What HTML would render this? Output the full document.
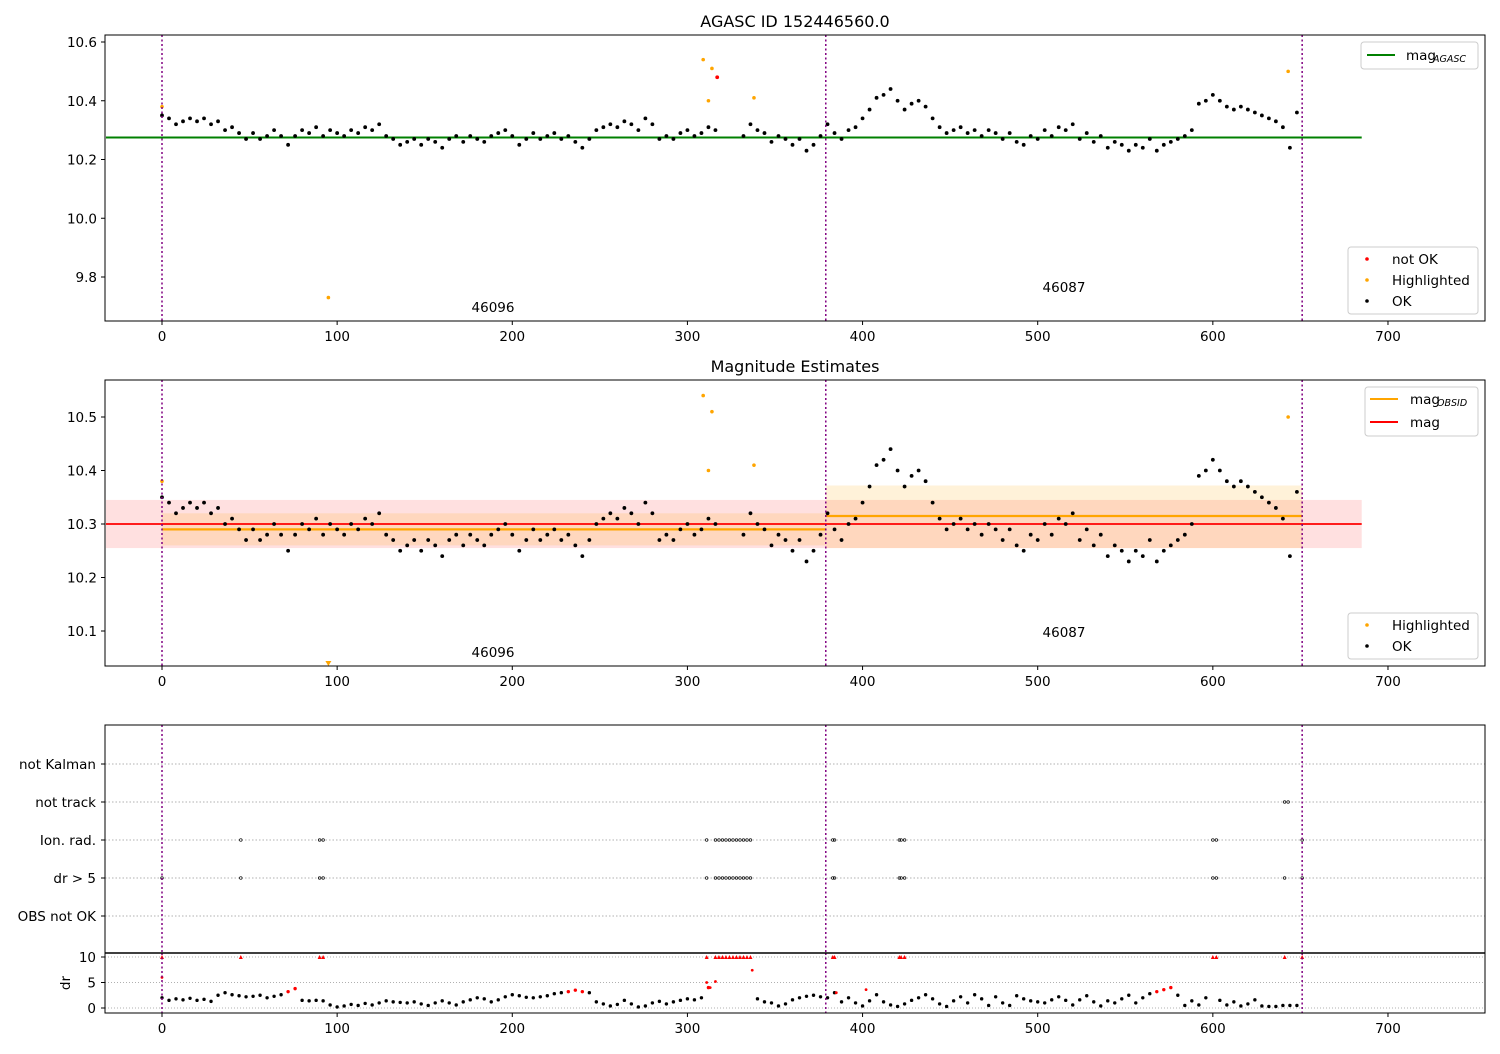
<!DOCTYPE html>
<html><head><meta charset="utf-8"><style>
body{margin:0;background:#fff;font-family:"DejaVu Sans","Liberation Sans",sans-serif;}
svg text{font-family:"DejaVu Sans","Liberation Sans",sans-serif;fill:#000}
</style></head><body>
<svg id="c" width="1500" height="1050" xmlns="http://www.w3.org/2000/svg"></svg>
<script>
const magX0=0, magStep=4;
const magValues=[10.35,10.34,10.32,10.33,10.34,10.33,10.34,10.32,10.33,10.30,10.31,10.29,10.27,10.29,10.27,10.28,10.30,10.28,10.25,10.28,10.30,10.29,10.31,10.28,10.30,10.29,10.28,10.30,10.29,10.31,10.30,10.32,10.28,10.27,10.25,10.26,10.27,10.25,10.27,10.26,10.24,10.27,10.28,10.26,10.28,10.27,10.26,10.28,10.29,10.30,10.28,10.25,10.27,10.29,10.27,10.28,10.29,10.27,10.28,10.26,10.24,10.27,10.30,10.31,10.32,10.31,10.33,10.32,10.30,10.34,10.32,10.27,10.28,10.27,10.29,10.30,10.28,10.29,10.31,10.30,null,null,null,10.28,10.32,10.30,10.29,10.26,10.28,10.27,10.25,10.27,10.23,10.25,10.28,10.32,10.29,10.27,10.30,10.31,10.34,10.37,10.41,10.42,10.44,10.40,10.37,10.39,10.40,10.38,10.34,10.31,10.29,10.30,10.31,10.29,10.30,10.28,10.30,10.29,10.27,10.29,10.26,10.25,10.28,10.27,10.30,10.28,10.31,10.30,10.32,10.27,10.29,10.26,10.28,10.24,10.26,10.25,10.23,10.25,10.24,10.27,10.23,10.25,10.26,10.27,10.28,10.30,10.39,10.40,10.42,10.40,10.38,10.37,10.38,10.37,10.36,10.35,10.34,10.33,10.31,10.24,10.36];
const hlX=[0,95,309,312,314,338,643];
const hlY=[10.38,9.73,10.54,10.40,10.51,10.41,10.50];
const notOkX=[317], notOkY=[10.48];
const drValues=[2.0,1.5,1.8,1.6,1.9,1.5,1.7,1.3,2.5,3.0,2.6,2.4,2.2,2.3,2.5,2.0,2.3,2.6,3.2,3.8,1.5,1.4,1.5,1.4,0.6,0.2,0.4,0.7,0.5,0.9,0.6,1.0,1.4,1.2,1.1,1.0,1.2,0.8,0.5,1.0,1.4,1.0,0.6,1.2,1.6,2.0,1.8,1.2,1.6,2.2,2.6,2.4,2.1,2.0,2.2,2.4,2.8,3.0,3.2,3.5,3.2,3.0,1.2,0.8,0.4,0.7,1.5,0.8,0.2,0.4,1.0,1.3,0.8,1.2,1.5,1.8,1.6,2.0,4.0,null,null,null,null,null,null,1.8,1.2,1.0,0.4,0.8,1.6,2.0,2.3,2.5,2.2,2.0,3.0,1.2,2.0,1.0,0.4,1.4,2.6,1.2,0.6,0.3,0.8,1.5,2.0,2.6,1.8,0.8,0.3,1.4,2.2,1.0,2.6,1.8,0.5,2.2,1.0,0.5,2.4,1.8,1.4,1.2,1.0,1.6,2.2,1.5,0.6,1.6,2.4,1.2,0.4,1.4,1.0,1.8,2.5,1.0,2.0,2.8,3.2,3.6,4.0,2.5,0.5,1.4,0.6,2.0,null,1.5,0.6,1.2,0.4,0.8,1.6,0.4,0.3,0.3,0.5,0.5,0.5];
const drExtraX=[0,311,313,316,337,402,385];
const drExtraY=[6,5,4,5.2,7.4,3.6,3.0];
const drGt5X=[0,45,90,92,311,316,318,320,322,324,326,328,330,332,334,336,383,384,421,422,424,600,602,641,651];
const ionX=[45,90,92,311,316,318,320,322,324,326,328,330,332,334,336,383,384,421,422,424,600,602,651];
const notTrackX=[641,643];
const categories=["not Kalman","not track","Ion. rad.","dr > 5","OBS not OK"];
const xTicks=[0,100,200,300,400,500,600,700];
const p1Ticks=[9.8,10.0,10.2,10.4,10.6];
const p2Ticks=[10.1,10.2,10.3,10.4,10.5];
const drTicks=[0,5,10];
const obsStarts=[0,379,651];
const obsLabels=["46096","46087"];
const magAgasc=10.275, magMean=10.30, magStd=0.045;
const obsMean=[10.29,10.315], obsLo=[10.26,10.255], obsHi=[10.32,10.372];

const NS="http://www.w3.org/2000/svg", svg=document.getElementById('c');
const X=v=>162+v*1.7514;
const Y1=v=>42+(10.6-v)*293.75;
const Y2=v=>417+(10.5-v)*535;
const YD=v=>1008-v*5.1;
function el(t,a,p){const e=document.createElementNS(NS,t);for(const k in a)e.setAttribute(k,a[k]);(p||svg).appendChild(e);return e;}
function txt(s,x,y,a,p){const e=el('text',Object.assign({x:x,y:y,style:'font-size:13.5px'},a||{}),p);e.textContent=s;return e;}
function frame(y0,y1){el('rect',{x:105,y:y0,width:1380,height:y1-y0,fill:'none',stroke:'#000','stroke-width':1});}
function xticks(yb,lab){xTicks.forEach(t=>{el('line',{x1:X(t),x2:X(t),y1:yb,y2:yb+4,stroke:'#000'});if(lab)txt(String(t),X(t),yb+20,{'text-anchor':'middle',style:'font-size:13.5px'});});}
function vlines(y0,y1,g){obsStarts.forEach(s=>{const l=el('line',{x1:X(s),x2:X(s),y1:y0,y2:y1,stroke:'#800080','stroke-width':1.5,'stroke-dasharray':'2,2.5'},g);});}
function mags(Y,g){magValues.forEach((v,i)=>{if(v==null)return;el('circle',{cx:X(magX0+i*magStep),cy:Y(v),r:1.9,fill:'#000'},g);});}

txt("AGASC ID 152446560.0",795,27,{'text-anchor':'middle',style:'font-size:16px'});

const g1=el('g',{});
el('line',{x1:X(-32),x2:X(685),y1:Y1(magAgasc),y2:Y1(magAgasc),stroke:'#008000','stroke-width':2},g1);
mags(Y1,g1);
hlX.forEach((x,i)=>el('circle',{cx:X(x),cy:Y1(hlY[i]),r:1.8,fill:'#ffa500'},g1));
notOkX.forEach((x,i)=>el('circle',{cx:X(x),cy:Y1(notOkY[i]),r:1.9,fill:'#f00'},g1));
vlines(35,321,g1);
frame(35,321);xticks(321,true);
p1Ticks.forEach(t=>{el('line',{x1:101,x2:105,y1:Y1(t),y2:Y1(t),stroke:'#000'});txt(t.toFixed(1),97,Y1(t)+5,{'text-anchor':'end'});});
txt(obsLabels[0],493,312,{'text-anchor':'middle'});txt(obsLabels[1],1064,292,{'text-anchor':'middle'});
let lg=el('g',{});
el('rect',{x:1361,y:42,width:117,height:27,rx:3,fill:'#fff',stroke:'#ccc'},lg);
el('line',{x1:1367,x2:1395,y1:55,y2:55,stroke:'#008000','stroke-width':2},lg);
txt("mag",1406,60,{},lg);txt("AGASC",1433,62,{style:'font-size:9.5px;font-style:italic'},lg);
lg=el('g',{});
el('rect',{x:1348,y:247,width:130,height:67,rx:3,fill:'#fff',stroke:'#ccc'},lg);
[['#f00','not OK',260],['#ffa500','Highlighted',281],['#000','OK',302]].forEach(a=>{el('circle',{cx:1367,cy:a[2]-1,r:1.8,fill:a[0]},lg);txt(a[1],1392,a[2]+4,{},lg);});

txt("Magnitude Estimates",795,372,{'text-anchor':'middle',style:'font-size:16px'});
const g2=el('g',{});
el('rect',{x:X(-32),y:Y2(magMean+magStd),width:X(685)-X(-32),height:Y2(magMean-magStd)-Y2(magMean+magStd),fill:'#ff0000','fill-opacity':0.12},g2);
[[0,379],[379,651]].forEach((r,i)=>{el('rect',{x:X(r[0]),y:Y2(obsHi[i]),width:X(r[1])-X(r[0]),height:Y2(obsLo[i])-Y2(obsHi[i]),fill:'#ffa500','fill-opacity':0.15},g2);});
el('line',{x1:X(-32),x2:X(685),y1:Y2(magMean),y2:Y2(magMean),stroke:'#f00','stroke-width':1.8},g2);
[[0,379],[379,651]].forEach((r,i)=>{el('line',{x1:X(r[0]),x2:X(r[1]),y1:Y2(obsMean[i]),y2:Y2(obsMean[i]),stroke:'#ffa500','stroke-width':2.2},g2);});
mags(Y2,g2);
hlX.forEach((x,i)=>{if(hlY[i]<10.04){el('path',{d:`M${X(x)-3},${661} L${X(x)+3},${661} L${X(x)},${666}Z`,fill:'#ffa500'},g2);}else el('circle',{cx:X(x),cy:Y2(hlY[i]),r:1.8,fill:'#ffa500'},g2);});
vlines(380,666,g2);
frame(380,666);xticks(666,true);
p2Ticks.forEach(t=>{el('line',{x1:101,x2:105,y1:Y2(t),y2:Y2(t),stroke:'#000'});txt(t.toFixed(1),97,Y2(t)+5,{'text-anchor':'end'});});
txt(obsLabels[0],493,657,{'text-anchor':'middle'});txt(obsLabels[1],1064,637,{'text-anchor':'middle'});
lg=el('g',{});
el('rect',{x:1365,y:387,width:113,height:49,rx:3,fill:'#fff',stroke:'#ccc'},lg);
el('line',{x1:1370,x2:1398,y1:399,y2:399,stroke:'#ffa500','stroke-width':2},lg);
txt("mag",1410,404,{},lg);txt("OBSID",1437,406,{style:'font-size:9.5px;font-style:italic'},lg);
el('line',{x1:1370,x2:1398,y1:422,y2:422,stroke:'#f00','stroke-width':2},lg);txt("mag",1410,427,{},lg);
lg=el('g',{});
el('rect',{x:1348,y:613,width:130,height:46,rx:3,fill:'#fff',stroke:'#ccc'},lg);
[['#ffa500','Highlighted',626],['#000','OK',647]].forEach(a=>{el('circle',{cx:1367,cy:a[2]-1,r:1.8,fill:a[0]},lg);txt(a[1],1392,a[2]+4,{},lg);});

const g3=el('g',{});
const catY=i=>764+i*38;
categories.forEach((c,i)=>{el('line',{x1:105,x2:1485,y1:catY(i),y2:catY(i),stroke:'#b0b0b0','stroke-dasharray':'1.5,2'},g3);el('line',{x1:101,x2:105,y1:catY(i),y2:catY(i),stroke:'#000'});txt(c,96,catY(i)+5,{'text-anchor':'end'});});
[[notTrackX,1],[ionX,2],[drGt5X,3]].forEach(a=>a[0].forEach(x=>el('circle',{cx:X(x),cy:catY(a[1]),r:1.3,fill:'none',stroke:'#000','stroke-width':0.7},g3)));
vlines(725,953,g3);
frame(725,953);

const g4=el('g',{});
drTicks.forEach(t=>{el('line',{x1:105,x2:1485,y1:YD(t),y2:YD(t),stroke:'#b0b0b0','stroke-dasharray':'1,2'},g4);el('line',{x1:101,x2:105,y1:YD(t),y2:YD(t),stroke:'#000'});txt(String(t),96,YD(t)+5,{'text-anchor':'end'});});
drValues.forEach((v,i)=>{if(v==null)return;el('circle',{cx:X(i*magStep),cy:YD(v),r:1.7,fill:v>3?'#f00':'#000'},g4);});
drExtraX.forEach((x,i)=>el('circle',{cx:X(x),cy:YD(drExtraY[i]),r:1.4,fill:'#f00'},g4));
drGt5X.forEach(x=>el('path',{d:`M${X(x)-2},${YD(10)+2} L${X(x)+2},${YD(10)+2} L${X(x)},${YD(10)-2}Z`,fill:'#f00'},g4));
vlines(953,1013,g4);
frame(953,1013);xticks(1013,true);
el('line',{x1:105,x2:1485,y1:953,y2:953,stroke:'#000','stroke-width':1.5});
txt("dr",70,983,{'text-anchor':'middle',transform:'rotate(-90 70 983)'});
</script>
</body></html>
